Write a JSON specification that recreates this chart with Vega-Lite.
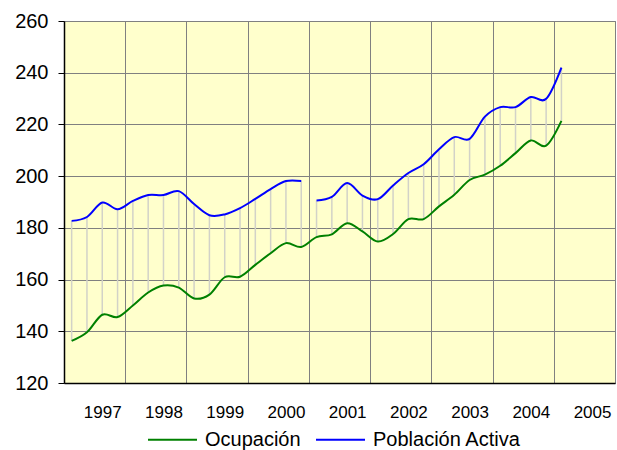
{
  "$schema": "https://vega.github.io/schema/vega-lite/v6.json",
  "width": 551,
  "height": 362,
  "autosize": {"type": "none"},
  "padding": {"left": 64, "top": 21, "right": 2, "bottom": 67},
  "background": "#FFFFFF",
  "config": {
    "view": {"fill": "#FFFFCC", "stroke": "#808080", "strokeWidth": 1},
    "font": "Liberation Sans"
  },
  "data": {
    "values": [
      {"periodo": 1996.5, "serie": "Ocupación", "valor": 136.3, "tramo": "A"},
      {"periodo": 1996.75, "serie": "Ocupación", "valor": 139.6, "tramo": "A"},
      {"periodo": 1997.0, "serie": "Ocupación", "valor": 146.4, "tramo": "A"},
      {"periodo": 1997.25, "serie": "Ocupación", "valor": 145.5, "tramo": "A"},
      {"periodo": 1997.5, "serie": "Ocupación", "valor": 150.0, "tramo": "A"},
      {"periodo": 1997.75, "serie": "Ocupación", "valor": 155.0, "tramo": "A"},
      {"periodo": 1998.0, "serie": "Ocupación", "valor": 157.7, "tramo": "A"},
      {"periodo": 1998.25, "serie": "Ocupación", "valor": 156.9, "tramo": "A"},
      {"periodo": 1998.5, "serie": "Ocupación", "valor": 152.7, "tramo": "A"},
      {"periodo": 1998.75, "serie": "Ocupación", "valor": 154.2, "tramo": "A"},
      {"periodo": 1999.0, "serie": "Ocupación", "valor": 160.9, "tramo": "A"},
      {"periodo": 1999.25, "serie": "Ocupación", "valor": 161.1, "tramo": "A"},
      {"periodo": 1999.5, "serie": "Ocupación", "valor": 165.7, "tramo": "A"},
      {"periodo": 1999.75, "serie": "Ocupación", "valor": 170.2, "tramo": "A"},
      {"periodo": 2000.0, "serie": "Ocupación", "valor": 174.1, "tramo": "A"},
      {"periodo": 2000.25, "serie": "Ocupación", "valor": 172.6, "tramo": "A"},
      {"periodo": 2000.5, "serie": "Ocupación", "valor": 176.4, "tramo": "A"},
      {"periodo": 2000.75, "serie": "Ocupación", "valor": 177.5, "tramo": "A"},
      {"periodo": 2001.0, "serie": "Ocupación", "valor": 181.8, "tramo": "A"},
      {"periodo": 2001.25, "serie": "Ocupación", "valor": 178.6, "tramo": "A"},
      {"periodo": 2001.5, "serie": "Ocupación", "valor": 174.7, "tramo": "A"},
      {"periodo": 2001.75, "serie": "Ocupación", "valor": 177.6, "tramo": "A"},
      {"periodo": 2002.0, "serie": "Ocupación", "valor": 183.4, "tramo": "A"},
      {"periodo": 2002.25, "serie": "Ocupación", "valor": 183.4, "tramo": "A"},
      {"periodo": 2002.5, "serie": "Ocupación", "valor": 188.3, "tramo": "A"},
      {"periodo": 2002.75, "serie": "Ocupación", "valor": 192.8, "tramo": "A"},
      {"periodo": 2003.0, "serie": "Ocupación", "valor": 198.5, "tramo": "A"},
      {"periodo": 2003.25, "serie": "Ocupación", "valor": 200.6, "tramo": "A"},
      {"periodo": 2003.5, "serie": "Ocupación", "valor": 204.0, "tramo": "A"},
      {"periodo": 2003.75, "serie": "Ocupación", "valor": 208.9, "tramo": "A"},
      {"periodo": 2004.0, "serie": "Ocupación", "valor": 213.8, "tramo": "A"},
      {"periodo": 2004.25, "serie": "Ocupación", "valor": 211.8, "tramo": "A"},
      {"periodo": 2004.5, "serie": "Ocupación", "valor": 221.4, "tramo": "A"},
      {"periodo": 1996.5, "serie": "Población Activa", "valor": 182.7, "tramo": "A"},
      {"periodo": 1996.75, "serie": "Población Activa", "valor": 184.2, "tramo": "A"},
      {"periodo": 1997.0, "serie": "Población Activa", "valor": 189.8, "tramo": "A"},
      {"periodo": 1997.25, "serie": "Población Activa", "valor": 187.2, "tramo": "A"},
      {"periodo": 1997.5, "serie": "Población Activa", "valor": 190.4, "tramo": "A"},
      {"periodo": 1997.75, "serie": "Población Activa", "valor": 192.7, "tramo": "A"},
      {"periodo": 1998.0, "serie": "Población Activa", "valor": 192.7, "tramo": "A"},
      {"periodo": 1998.25, "serie": "Población Activa", "valor": 194.2, "tramo": "A"},
      {"periodo": 1998.5, "serie": "Población Activa", "valor": 189.2, "tramo": "A"},
      {"periodo": 1998.75, "serie": "Población Activa", "valor": 184.9, "tramo": "A"},
      {"periodo": 1999.0, "serie": "Población Activa", "valor": 185.2, "tramo": "A"},
      {"periodo": 1999.25, "serie": "Población Activa", "valor": 187.6, "tramo": "A"},
      {"periodo": 1999.5, "serie": "Población Activa", "valor": 191.2, "tramo": "A"},
      {"periodo": 1999.75, "serie": "Población Activa", "valor": 195.0, "tramo": "A"},
      {"periodo": 2000.0, "serie": "Población Activa", "valor": 198.1, "tramo": "A"},
      {"periodo": 2000.25, "serie": "Población Activa", "valor": 198.1, "tramo": "A"},
      {"periodo": 2000.5, "serie": "Población Activa", "valor": 190.6, "tramo": "B"},
      {"periodo": 2000.75, "serie": "Población Activa", "valor": 192.0, "tramo": "B"},
      {"periodo": 2001.0, "serie": "Población Activa", "valor": 197.3, "tramo": "B"},
      {"periodo": 2001.25, "serie": "Población Activa", "valor": 192.5, "tramo": "B"},
      {"periodo": 2001.5, "serie": "Población Activa", "valor": 191.1, "tramo": "B"},
      {"periodo": 2001.75, "serie": "Población Activa", "valor": 196.4, "tramo": "B"},
      {"periodo": 2002.0, "serie": "Población Activa", "valor": 201.2, "tramo": "B"},
      {"periodo": 2002.25, "serie": "Población Activa", "valor": 204.6, "tramo": "B"},
      {"periodo": 2002.5, "serie": "Población Activa", "valor": 210.4, "tramo": "B"},
      {"periodo": 2002.75, "serie": "Población Activa", "valor": 215.1, "tramo": "B"},
      {"periodo": 2003.0, "serie": "Población Activa", "valor": 214.4, "tramo": "B"},
      {"periodo": 2003.25, "serie": "Población Activa", "valor": 223.0, "tramo": "B"},
      {"periodo": 2003.5, "serie": "Población Activa", "valor": 226.7, "tramo": "B"},
      {"periodo": 2003.75, "serie": "Población Activa", "valor": 226.7, "tramo": "B"},
      {"periodo": 2004.0, "serie": "Población Activa", "valor": 230.6, "tramo": "B"},
      {"periodo": 2004.25, "serie": "Población Activa", "valor": 229.9, "tramo": "B"},
      {"periodo": 2004.5, "serie": "Población Activa", "valor": 242.0, "tramo": "B"}
    ]
  },
  "encoding": {
    "x": {
      "field": "periodo",
      "type": "quantitative",
      "scale": {"domain": [1996.375, 2005.375], "nice": false, "zero": false},
      "axis": {
        "title": null,
        "values": [1996.375, 1997, 1997.375, 1998, 1998.375, 1999, 1999.375, 2000, 2000.375, 2001, 2001.375, 2002, 2002.375, 2003, 2003.375, 2004, 2004.375, 2005, 2005.375],
        "labelExpr": "datum.value % 1 === 0 ? toString(datum.value) : ''",
        "grid": true,
        "gridColor": "#808080",
        "gridWidth": 1,
        "gridOpacity": {"condition": {"test": "datum.value % 1 === 0", "value": 0}, "value": 1},
        "ticks": false,
        "tickSize": 0,
        "domainColor": "#000000",
        "domainWidth": 1.5,
        "labelFont": "Liberation Sans",
        "labelFontSize": 17,
        "labelColor": "#000000",
        "labelPadding": 21,
        "labelOverlap": false,
        "labelFlush": false
      }
    }
  },
  "layer": [
    {
      "transform": [{"pivot": "serie", "value": "valor", "groupby": ["periodo"]}],
      "mark": {"type": "rule", "color": "#D2D2C8", "strokeWidth": 1.5},
      "encoding": {
        "y": {"field": "Ocupación", "type": "quantitative"},
        "y2": {"field": "Población Activa"}
      }
    },
    {
      "mark": {"type": "line", "interpolate": "cardinal", "strokeWidth": 2},
      "encoding": {
        "y": {
          "field": "valor",
          "type": "quantitative",
          "scale": {"domain": [120, 260], "nice": false, "zero": false},
          "axis": {
            "title": null,
            "values": [120, 140, 160, 180, 200, 220, 240, 260],
            "grid": true,
            "gridColor": "#808080",
            "gridWidth": 1,
            "domainColor": "#000000",
            "domainWidth": 1.5,
            "tickColor": "#000000",
            "tickSize": 6,
            "labelFont": "Liberation Sans",
            "labelFontSize": 20,
            "labelColor": "#000000",
            "labelPadding": 10
          }
        },
        "color": {
          "field": "serie",
          "type": "nominal",
          "scale": {"domain": ["Ocupación", "Población Activa"], "range": ["#008000", "#0000FF"]},
          "legend": {
            "title": null,
            "orient": "none",
            "direction": "horizontal",
            "legendX": 83,
            "legendY": 393,
            "symbolType": "stroke",
            "symbolSize": 2401,
            "symbolStrokeWidth": 2,
            "labelFont": "Liberation Sans",
            "labelFontSize": 20,
            "labelColor": "#000000",
            "labelOffset": 7,
            "columnPadding": 11
          }
        },
        "detail": {"field": "tramo"}
      }
    }
  ]
}
